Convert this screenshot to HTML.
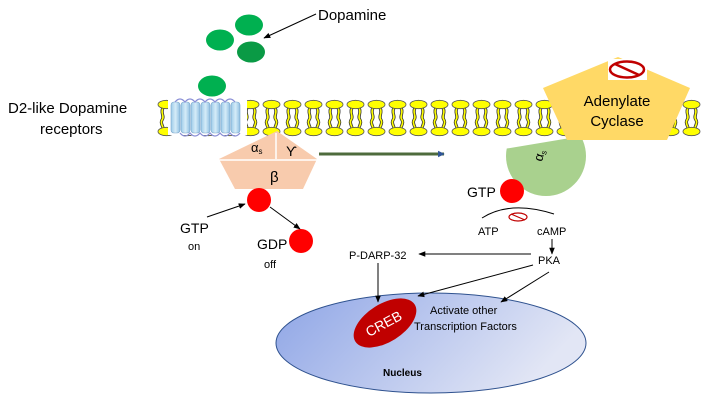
<!DOCTYPE html>
<html><head><meta charset="utf-8"><style>
html,body{margin:0;padding:0;background:#fff;}
svg{display:block;font-family:"Liberation Sans",sans-serif;}
</style></head><body>
<svg width="707" height="406" viewBox="0 0 707 406" xmlns="http://www.w3.org/2000/svg">
<defs>
<pattern id="lip" x="156" y="98" width="21" height="40" patternUnits="userSpaceOnUse">
<path d="M7,10 C4,15 9,18 6,22 C4,25 7,28 7,30" fill="none" stroke="#333" stroke-width="3.2"/>
<path d="M14,10 C17,15 12,18 15,22 C17,25 14,28 14,30" fill="none" stroke="#333" stroke-width="3.2"/>
<path d="M7,10 C4,15 9,18 6,22 C4,25 7,28 7,30" fill="none" stroke="#ff0" stroke-width="1.6"/>
<path d="M14,10 C17,15 12,18 15,22 C17,25 14,28 14,30" fill="none" stroke="#ff0" stroke-width="1.6"/>
<ellipse cx="10.5" cy="6.5" rx="8.5" ry="4.2" fill="#ff0" stroke="#555" stroke-width="0.8"/>
<ellipse cx="10.5" cy="33.5" rx="8.5" ry="4.2" fill="#ff0" stroke="#555" stroke-width="0.8"/>
</pattern>
<linearGradient id="nuc" x1="0" y1="0" x2="1" y2="0.3">
<stop offset="0" stop-color="#8ea5e6"/><stop offset="1" stop-color="#e2e6f5"/>
</linearGradient>
<linearGradient id="cyl" x1="0" x2="1"><stop offset="0" stop-color="#9ccae8"/><stop offset="0.5" stop-color="#d6ecf8"/><stop offset="1" stop-color="#8fbfe2"/></linearGradient>
<marker id="ah" viewBox="0 0 10 10" refX="9" refY="5" markerWidth="7" markerHeight="7" orient="auto"><path d="M0,1 L10,5 L0,9 z" fill="#000"/></marker>
<marker id="ahb" viewBox="0 0 10 10" refX="9" refY="5" markerWidth="2.2" markerHeight="2.2" orient="auto"><path d="M0,0 L10,5 L0,10 z" fill="#2f5597"/></marker>
<clipPath id="gclip"><polygon points="480,153 600,133 620,220 480,220"/></clipPath>
</defs>

<rect x="156" y="98" width="546" height="40" fill="url(#lip)"/>

<g>
<rect x="168" y="100" width="79" height="35" fill="#fff"/>
<rect x="171" y="102" width="9" height="31" rx="3" fill="url(#cyl)" stroke="#7aa6cc" stroke-width="0.6"/>
<rect x="181" y="102" width="9" height="31" rx="3" fill="url(#cyl)" stroke="#7aa6cc" stroke-width="0.6"/>
<rect x="191" y="102" width="9" height="31" rx="3" fill="url(#cyl)" stroke="#7aa6cc" stroke-width="0.6"/>
<rect x="201" y="102" width="9" height="31" rx="3" fill="url(#cyl)" stroke="#7aa6cc" stroke-width="0.6"/>
<rect x="211" y="102" width="9" height="31" rx="3" fill="url(#cyl)" stroke="#7aa6cc" stroke-width="0.6"/>
<rect x="221" y="102" width="9" height="31" rx="3" fill="url(#cyl)" stroke="#7aa6cc" stroke-width="0.6"/>
<rect x="231" y="102" width="9" height="31" rx="3" fill="url(#cyl)" stroke="#7aa6cc" stroke-width="0.6"/>
<path d="M175,102 q5,-6 10,0 q5,-6 10,0 q5,-6 10,0 q5,-6 10,0 q5,-6 10,0 q5,-6 10,0 M180,133 q5,6 10,0 q5,6 10,0 q5,6 10,0 q5,6 10,0 q5,6 10,0 q5,6 10,0" fill="none" stroke="#8a8fd6" stroke-width="1.3"/>
</g>

<ellipse cx="249" cy="25" rx="14" ry="10.5" fill="#00b050"/>
<ellipse cx="220" cy="40" rx="14" ry="10.5" fill="#00b050"/>
<ellipse cx="251" cy="52" rx="14" ry="10.5" fill="#0a9a45"/>
<ellipse cx="212" cy="86" rx="14" ry="10.5" fill="#00b050"/>
<line x1="316" y1="14" x2="264" y2="38" stroke="#000" stroke-width="1" marker-end="url(#ah)"/>
<text x="318" y="20" font-size="15">Dopamine</text>
<text x="8" y="113" font-size="15">D2-like Dopamine</text>
<text x="40" y="134" font-size="15">receptors</text>

<polygon points="277,131 317,159 303,189 235,189 219,159" fill="#f8cbad"/>
<line x1="276" y1="133" x2="276" y2="159" stroke="#fff" stroke-width="1.5"/>
<line x1="218" y1="160" x2="318" y2="160" stroke="#fff" stroke-width="1.5"/>
<text x="251" y="152" font-size="13">α<tspan font-size="8" dy="2">s</tspan></text>
<text x="286" y="156" font-size="14">ϒ</text>
<text x="270" y="182" font-size="15">β</text>

<line x1="319" y1="154" x2="444" y2="154" stroke="#4e6b3c" stroke-width="3" marker-end="url(#ahb)"/>

<circle cx="546" cy="156" r="40" fill="#a9d18e" clip-path="url(#gclip)"/>
<text x="0" y="0" font-size="13" transform="translate(542,162) rotate(-75)">α<tspan font-size="8" dy="2">s</tspan></text>

<polygon points="618,57 690,88 667,140 567,140 543,88" fill="#ffd966"/>
<text x="617" y="106" font-size="15" text-anchor="middle">Adenylate</text>
<text x="617" y="126" font-size="15" text-anchor="middle">Cyclase</text>
<rect x="608" y="59" width="39" height="21" fill="#fff"/>
<ellipse cx="627" cy="69.5" rx="17" ry="8" fill="none" stroke="#c00000" stroke-width="2.5"/>
<line x1="615" y1="64" x2="639" y2="75" stroke="#c00000" stroke-width="2.5"/>

<circle cx="512" cy="191" r="12" fill="#f00"/>
<text x="467" y="197" font-size="14">GTP</text>

<circle cx="259" cy="200" r="12" fill="#f00"/>
<circle cx="301" cy="241" r="12" fill="#f00"/>
<line x1="207" y1="217" x2="245" y2="204" stroke="#000" stroke-width="1" marker-end="url(#ah)"/>
<line x1="270" y1="207" x2="300" y2="229" stroke="#000" stroke-width="1" marker-end="url(#ah)"/>
<text x="180" y="233" font-size="14">GTP</text>
<text x="188" y="250" font-size="11">on</text>
<text x="257" y="249" font-size="14">GDP</text>
<text x="264" y="268" font-size="11">off</text>

<path d="M482,218 Q510,200 554,214" fill="none" stroke="#000" stroke-width="1"/>
<ellipse cx="518" cy="217" rx="9" ry="4" fill="none" stroke="#c00000" stroke-width="1.2"/>
<line x1="511" y1="214" x2="525" y2="220" stroke="#c00000" stroke-width="1.2"/>
<text x="478" y="235" font-size="11">ATP</text>
<text x="537" y="235" font-size="11">cAMP</text>
<line x1="552" y1="239" x2="552" y2="254" stroke="#000" stroke-width="1" marker-end="url(#ah)"/>
<text x="538" y="264" font-size="11">PKA</text>
<line x1="531" y1="254" x2="419" y2="254" stroke="#000" stroke-width="1" marker-end="url(#ah)"/>
<text x="349" y="259" font-size="11">P-DARP-32</text>

<ellipse cx="431" cy="343" rx="155" ry="50" fill="url(#nuc)" stroke="#2f528f" stroke-width="1"/>
<ellipse cx="385" cy="323" rx="35" ry="19" fill="#c00000" transform="rotate(-32 385 323)"/>
<text x="0" y="0" font-size="14" fill="#fff" text-anchor="middle" transform="translate(386,328) rotate(-28)">CREB</text>
<text x="430" y="314" font-size="11">Activate other</text>
<text x="414" y="330" font-size="11">Transcription Factors</text>
<text x="383" y="376" font-size="10" font-weight="bold">Nucleus</text>

<line x1="378" y1="263" x2="378" y2="302" stroke="#000" stroke-width="1" marker-end="url(#ah)"/>
<line x1="533" y1="265" x2="418" y2="296" stroke="#000" stroke-width="1" marker-end="url(#ah)"/>
<line x1="549" y1="272" x2="501" y2="302" stroke="#000" stroke-width="1" marker-end="url(#ah)"/>
</svg>
</body></html>
